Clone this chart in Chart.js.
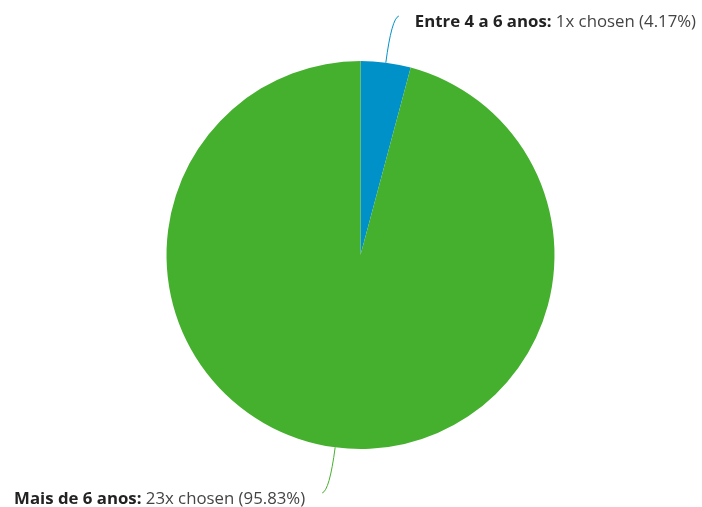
<!DOCTYPE html>
<html>
<head>
<meta charset="utf-8">
<script src="https://cdn.jsdelivr.net/npm/chart.js@4/dist/chart.umd.min.js"></script>
<style>
  html, body { margin: 0; padding: 0; background: #fff; }
  #wrap { width: 702px; height: 507px; }
</style>
</head>
<body>
<div id="wrap"><canvas id="pie" width="702" height="507"></canvas></div>
<script>
// answers and how many times each was picked
const labels = ["Entre 4 a 6 anos", "Mais de 6 anos"];
const counts = [1, 23];
const colors = ["#0091c9", "#45b02e"];

const total = counts.reduce((s, c) => s + c, 0);

// leader line end points, relative to the slice's outer edge
const leaderEnd = [
    { dx: 13, y: 16, side: "right" },
    { dx: -13, y: 493, side: "left" }
];

const FONT_SIZE = 16.8;

const leaderLabels = {
    id: "leaderLabels",
    afterDatasetsDraw(chart) {
        const ctx = chart.ctx;
        const arcs = chart.getDatasetMeta(0).data;
        arcs.forEach((arc, i) => {
            const mid = (arc.startAngle + arc.endAngle) / 2;
            const r = arc.outerRadius;
            const dirX = Math.cos(mid), dirY = Math.sin(mid);
            const x0 = arc.x + dirX * r, y0 = arc.y + dirY * r;
            const cfg = leaderEnd[i];
            const ex = x0 + cfg.dx, ey = cfg.y;
            const reach = Math.abs(ey - y0) - 2;
            const cx = x0 + dirX * reach, cy = y0 + dirY * reach;

            ctx.save();
            ctx.strokeStyle = colors[i];
            ctx.lineWidth = 1;
            ctx.beginPath();
            ctx.moveTo(x0, y0);
            ctx.quadraticCurveTo(cx, cy, ex, ey);
            ctx.stroke();

            const pct = (counts[i] / total * 100).toFixed(2);
            const head = labels[i] + ": ";
            const rest = counts[i] + "x chosen (" + pct + "%)";
            const bold = "bold " + FONT_SIZE + "px 'Open Sans'";
            const normal = FONT_SIZE + "px 'Open Sans'";
            ctx.textBaseline = "alphabetic";
            ctx.font = bold;
            const wHead = ctx.measureText(head).width;
            ctx.font = normal;
            const wRest = ctx.measureText(rest).width;
            const tx = cfg.side === "right" ? ex + 16 : ex - 17 - wHead - wRest;
            const ty = ey + 11;
            ctx.font = bold;
            ctx.fillStyle = "#222";
            ctx.fillText(head, tx, ty);
            ctx.font = normal;
            ctx.fillStyle = "#444";
            ctx.fillText(rest, tx + wHead, ty);
            ctx.restore();
        });
    }
};

new Chart(document.getElementById("pie").getContext("2d"), {
    type: "pie",
    data: {
        labels: labels,
        datasets: [{
            data: counts,
            backgroundColor: colors,
            borderWidth: 0
        }]
    },
    options: {
        responsive: false,
        animation: false,
        layout: { padding: { top: 61, bottom: 58, left: 166, right: 147 } },
        plugins: {
            legend: { display: false },
            tooltip: { enabled: false }
        }
    },
    plugins: [leaderLabels]
});
</script>
</body>
</html>
